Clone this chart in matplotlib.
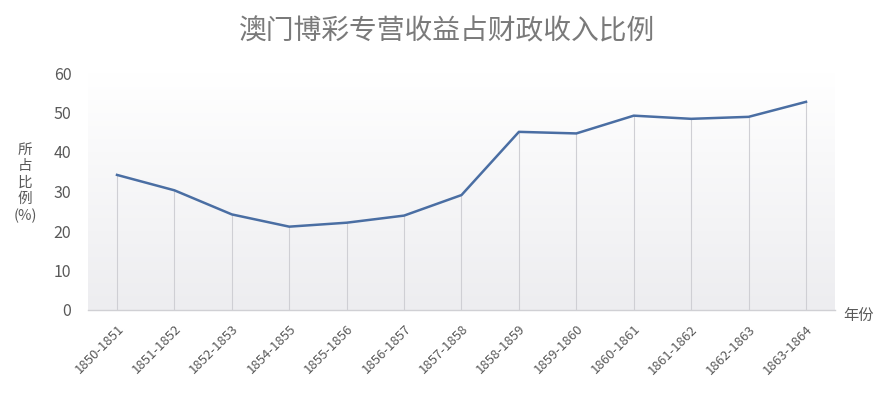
import numpy as np
import matplotlib
matplotlib.use("Agg")
import matplotlib.pyplot as plt
from matplotlib.colors import LinearSegmentedColormap

plt.rcParams['font.family'] = ['Noto Sans CJK SC', 'DejaVu Sans']

title = "澳门博彩专营收益占财政收入比例"
periods = ["1850-1851", "1851-1852", "1852-1853", "1854-1855", "1855-1856",
           "1856-1857", "1857-1858", "1858-1859", "1859-1860", "1860-1861",
           "1861-1862", "1862-1863", "1863-1864"]
shares = [34.2, 30.3, 24.2, 21.1, 22.1, 23.9, 29.1, 45.1, 44.7, 49.2, 48.4, 48.9, 52.7]
y_ticks = [0, 10, 20, 30, 40, 50, 60]

fig = plt.figure(figsize=(8.95, 3.97), dpi=100)
ax = fig.add_axes([88 / 895, 1 - 310 / 397, (835 - 88) / 895, (310 - 73) / 397])

x = np.arange(len(periods))
xmin, xmax = -0.505, len(periods) - 1 + 0.505
ax.set_xlim(xmin, xmax)

# soft vertical gradient behind the plot: white at top, light grey at the base
cmap = LinearSegmentedColormap.from_list("bg", ["#ffffff", "#ededf0"])
grad = np.linspace(1, 0, 256).reshape(-1, 1)
ax.imshow(grad, cmap=cmap, aspect="auto", extent=[xmin, xmax, 0, 60],
          origin="lower", zorder=0, vmin=0, vmax=1)
ax.set_ylim(0, 60)

# drop lines from each point to the baseline
ax.vlines(x, 0, shares, colors="#cfcfd4", linewidth=0.8, zorder=1)
ax.plot(x, shares, color="#4a6ea3", linewidth=1.8, zorder=3)

for s in ["top", "right", "left"]:
    ax.spines[s].set_visible(False)
ax.spines["bottom"].set_color("#d0d0d4")
ax.spines["bottom"].set_linewidth(1.0)

ax.set_yticks(y_ticks)
ax.set_yticklabels([str(v) for v in y_ticks], fontsize=11.5, color="#595959")
ax.tick_params(axis="y", length=0, pad=12)
ax.set_xticks(x)
ax.set_xticklabels(periods, rotation=45, ha="right", rotation_mode="anchor",
                   fontsize=9.5, color="#595959")
ax.tick_params(axis="x", length=0, pad=9)

fig.text(0.5, 1 - 31 / 397, title, ha="center", va="center",
         fontsize=20, color="#7a7a7a")
fig.text(25 / 895, 1 - 183 / 397, "所\n占\n比\n例\n(%)", ha="center", va="center",
         fontsize=10.5, color="#595959", linespacing=1.2)
fig.text(859 / 895, 1 - 315 / 397, "年份", ha="center", va="center",
         fontsize=11, color="#595959")

fig.savefig("out.png", dpi=100)
